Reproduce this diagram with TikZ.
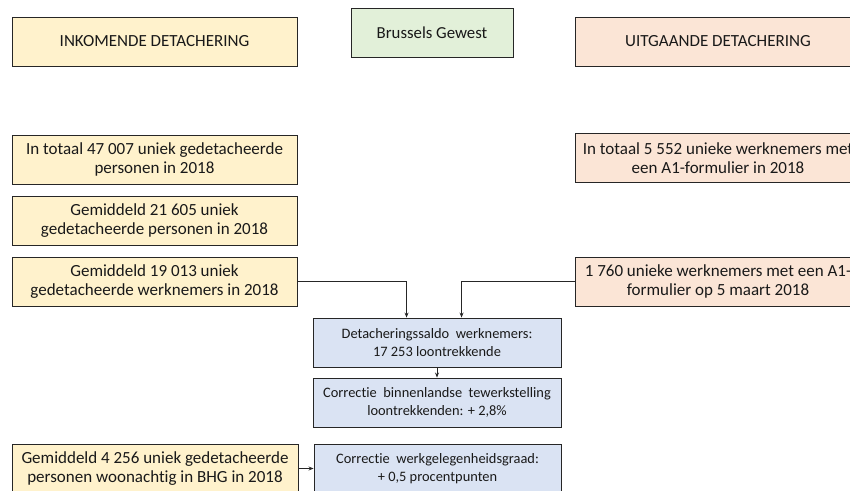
\documentclass[tikz,border=0pt]{standalone}
\usepackage{fontspec}
\setmainfont{Carlito}[Ligatures=NoCommon]
\usetikzlibrary{arrows.meta}
\definecolor{yel}{HTML}{FFF2CC}
\definecolor{grn}{HTML}{E2F0D9}
\definecolor{pnk}{HTML}{FBE5D6}
\definecolor{blu}{HTML}{DAE3F3}
\begin{document}
\begin{tikzpicture}[x=1pt,y=-1pt,
  box/.style={draw=black!85, line width=0.9pt, align=center, inner sep=0pt,
    minimum width=285pt, minimum height=49pt, text=black!90,
    font=\fontsize{17}{19}\selectfont},
  ybox/.style={box, fill=yel},
  pbox/.style={box, fill=pnk},
  bbox/.style={box, fill=blu, minimum width=248pt, font=\fontsize{14.4}{18}\selectfont},
  gbox/.style={box, fill=grn, minimum width=162pt, font=\fontsize{16.8}{19}\selectfont},
  arr/.style={draw=black!85, line width=0.8pt, -{Stealth[length=5pt,width=4pt]}}]
\useasboundingbox (0,0) rectangle (850,490);
\clip (0,0) rectangle (850,490);
\node[ybox] (ink) at (154.5,41.5) {INKOMENDE DETACHERING};
\node[gbox] (bru) at (432,32.5) {Brussels Gewest};
\node[pbox] (uit) at (718,41.5) {UITGAANDE DETACHERING};
\node[ybox] (t47) at (154.5,159.5) {In totaal 47 007 uniek gedetacheerde\\personen in 2018};
\node[ybox] (g21) at (154.5,220.5) {Gemiddeld 21 605 uniek\\gedetacheerde personen in 2018};
\node[ybox] (g19) at (154.5,281.5) {Gemiddeld 19 013 uniek\\gedetacheerde werknemers in 2018};
\node[pbox] (t55) at (718,158) {In totaal 5 552 unieke werknemers met\\een A1-formulier in 2018};
\node[pbox] (u17) at (718,281.5) {1 760 unieke werknemers met een A1-\\formulier op 5 maart 2018};
\node[bbox] (sal) at (437,342.5) {Detacheringssaldo\ \ werknemers:\\17 253 loontrekkende};
\node[bbox] (cor) at (437,402.5) {Correctie\ \ binnenlandse\ \ tewerkstelling\\loontrekkenden: + 2,8\%};
\node[ybox, minimum width=286pt] (g42) at (155,468.5) {Gemiddeld 4 256 uniek gedetacheerde\\personen woonachtig in BHG in 2018};
\node[bbox, minimum width=247pt] (wer) at (437.5,468.5) {Correctie\ \ werkgelegenheidsgraad:\\+ 0,5 procentpunten};
\draw[arr] (g19.east) -| ([xshift=94pt]sal.north west);
\draw[arr] (u17.west) -| ([xshift=149pt]sal.north west);
\draw[arr] (sal.south) -- (cor.north);
\draw[arr] (g42.east) -- (wer.west);
\end{tikzpicture}
\end{document}
